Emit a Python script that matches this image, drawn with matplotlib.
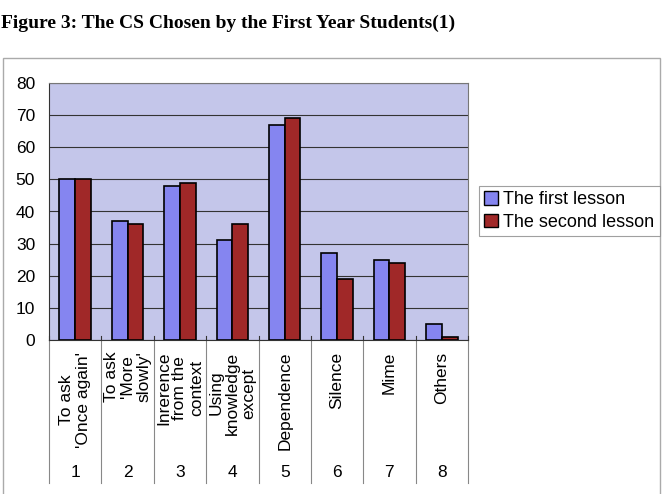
import matplotlib.pyplot as plt
from matplotlib.patches import Rectangle, Patch
from matplotlib.transforms import blended_transform_factory

numbers = ["1", "2", "3", "4", "5", "6", "7", "8"]
categories = [
    "To ask\n'Once again'",
    "To ask\n'More\nslowly'",
    "Inrerence\nfrom the\ncontext",
    "Using\nknowledge\nexcept",
    "Dependence",
    "Silence",
    "Mime",
    "Others",
]
first_lesson = [50, 37, 48, 31, 67, 27, 25, 5]
second_lesson = [50, 36, 49, 36, 69, 19, 24, 1]
series_names = ["The first lesson", "The second lesson"]
title = "Figure 3: The CS Chosen by the First Year Students(1)"

BLUE = "#8585F0"
RED = "#A02828"
BG = "#C4C6EA"

plt.rcParams["font.family"] = ["Liberation Sans", "DejaVu Sans"]

fig = plt.figure(figsize=(6.63, 4.94), dpi=100)
W, H = 663.0, 494.0

fig.text(1 / W, 1 - 23 / H, title, family=["Liberation Serif"],
         fontweight="bold", fontsize=14, ha="left", va="center")

# outer chart frame
fig.patches.append(Rectangle((3 / W, -0.01), 657 / W, (494 - 58) / H + 0.01,
                             transform=fig.transFigure, fill=False,
                             edgecolor="#aaaaaa", linewidth=1.0))

ax = fig.add_axes([49 / W, 1 - 340 / H, 419 / W, 257 / H])
ax.set_facecolor(BG)
x = list(range(len(numbers)))
bw = 0.3
ax.bar([i - bw / 2 for i in x], first_lesson, bw, color=BLUE, edgecolor="black",
       linewidth=1.2, zorder=3)
ax.bar([i + bw / 2 for i in x], second_lesson, bw, color=RED, edgecolor="black",
       linewidth=1.2, zorder=3)

ax.set_xlim(-0.5, 7.5)
ax.set_ylim(0, 80)
ax.set_yticks(range(0, 81, 10))
ax.tick_params(axis="y", length=0, pad=10, labelsize=12.5)
ax.set_xticks([])
ax.grid(axis="y", color="#333333", linewidth=0.8, zorder=1)
for s in ax.spines.values():
    s.set_color("#777777")
ax.spines["left"].set_color("#333333")
ax.spines["bottom"].set_color("#333333")

trans = blended_transform_factory(ax.transData, ax.transAxes)
for i in range(len(numbers) + 1):
    ax.plot([i - 0.5, i - 0.5], [0, -0.556], transform=trans, color="#888888",
            linewidth=0.8, clip_on=False)
    ax.plot([i - 0.5, i - 0.5], [0, 0.016], transform=trans, color="#333333",
            linewidth=0.8, clip_on=False, zorder=4)

for i, (lab, num) in enumerate(zip(categories, numbers)):
    ax.text(i, -0.045, lab, transform=trans, rotation=90, ha="center", va="top",
            multialignment="center", fontsize=12.5, linespacing=1.12)
    ax.text(i, -0.517, num, transform=trans, ha="center", va="center", fontsize=12.5)

handles = [Patch(facecolor=BLUE, edgecolor="black"),
           Patch(facecolor=RED, edgecolor="black")]
leg = fig.legend(handles, series_names, loc="center left",
                 bbox_to_anchor=(479 / W, 1 - 211 / H), fontsize=13,
                 frameon=True, fancybox=False, handlelength=0.75, handleheight=0.75,
                 handletextpad=0.3, borderpad=0.3, labelspacing=0.3,
                 borderaxespad=0)
leg.get_frame().set_edgecolor("#888888")
leg.get_frame().set_linewidth(0.8)

fig.savefig("out.png", dpi=100)
